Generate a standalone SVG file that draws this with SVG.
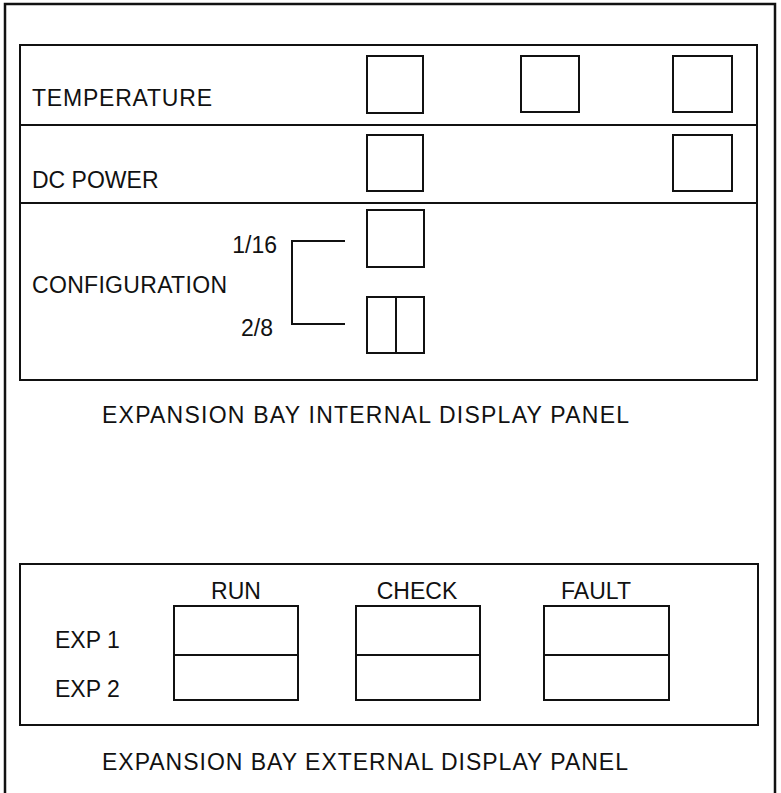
<svg xmlns="http://www.w3.org/2000/svg" width="781" height="793" viewBox="0 0 781 793">
<style>
.ln{fill:none;stroke:#111;stroke-width:2;}
.fr{fill:none;stroke:#111;stroke-width:2.5;}
.t{font-family:"Liberation Sans",Arial,sans-serif;font-size:23px;fill:#111;}
</style>
<rect width="781" height="793" fill="#fff"/>
<g id="outer-frame">
<path class="fr" d="M5,793 V4 H775 V793"/>
</g>
<g id="internal-panel">
<rect class="ln" x="20" y="45" width="737" height="335"/>
<line class="ln" x1="20" y1="125" x2="757" y2="125"/>
<line class="ln" x1="20" y1="203" x2="757" y2="203"/>
<text class="t" x="102" y="423" textLength="527" lengthAdjust="spacing">EXPANSION BAY INTERNAL DISPLAY PANEL</text>
</g>
<g id="temperature">
<text class="t" x="32" y="106" textLength="180" lengthAdjust="spacing">TEMPERATURE</text>
<rect class="ln" x="367" y="56" width="56" height="57"/>
<rect class="ln" x="521" y="56" width="58" height="56"/>
<rect class="ln" x="673" y="56" width="59" height="56"/>
</g>
<g id="dc-power">
<text class="t" x="32" y="188">DC POWER</text>
<rect class="ln" x="367" y="135" width="56" height="56"/>
<rect class="ln" x="673" y="135" width="59" height="56"/>
</g>
<g id="configuration">
<text class="t" x="32" y="293" textLength="195" lengthAdjust="spacing">CONFIGURATION</text>
<text class="t" x="277" y="253" text-anchor="end">1/16</text>
<text class="t" x="273" y="336" text-anchor="end">2/8</text>
<rect class="ln" x="367" y="210" width="57" height="57"/>
<rect class="ln" x="367" y="297" width="57" height="56"/>
<line class="ln" x1="396" y1="297" x2="396" y2="353"/>
</g>
<g id="connectors">
<path class="ln" d="M345,241 H292 V324 H345"/>
</g>
<g id="external-panel">
<rect class="ln" x="20" y="564" width="738" height="161"/>
<text class="t" x="102" y="770" textLength="526" lengthAdjust="spacing">EXPANSION BAY EXTERNAL DISPLAY PANEL</text>
<text class="t" x="55" y="648">EXP 1</text>
<text class="t" x="55" y="697">EXP 2</text>
</g>
<g id="run">
<text class="t" x="236" y="599" text-anchor="middle">RUN</text>
<rect class="ln" x="174" y="606" width="124" height="94"/>
<line class="ln" x1="174" y1="655" x2="298" y2="655"/>
</g>
<g id="check">
<text class="t" x="417" y="599" text-anchor="middle">CHECK</text>
<rect class="ln" x="356" y="606" width="124" height="94"/>
<line class="ln" x1="356" y1="655" x2="480" y2="655"/>
</g>
<g id="fault">
<text class="t" x="596" y="599" text-anchor="middle">FAULT</text>
<rect class="ln" x="544" y="606" width="125" height="94"/>
<line class="ln" x1="544" y1="655" x2="669" y2="655"/>
</g>
</svg>
